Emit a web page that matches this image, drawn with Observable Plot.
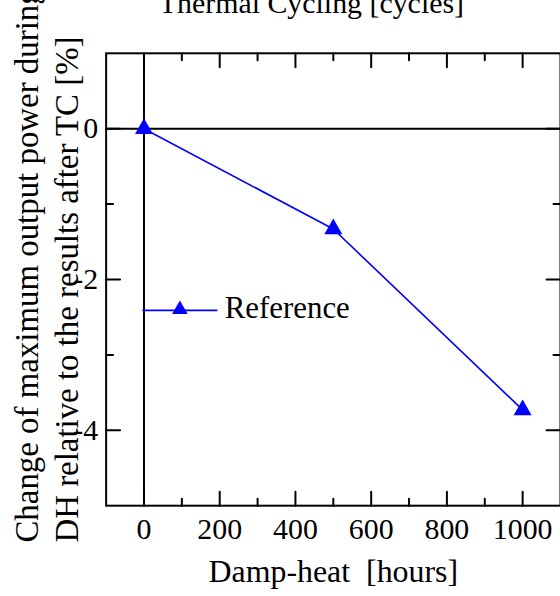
<!DOCTYPE html>
<html><head><meta charset="utf-8">
<script src="https://cdn.jsdelivr.net/npm/d3@7"></script>
<script src="https://cdn.jsdelivr.net/npm/@observablehq/plot@0.6"></script>
<style>html,body{margin:0;padding:0;overflow:hidden;background:#fff} svg{white-space:pre}</style>
</head><body><div id="chart"></div>
<script>
const hours = [0, 500, 1000];
const change = [0, -1.33, -3.73];
const seriesName = "Reference";
const xMajorTicks = [0, 200, 400, 600, 800, 1000];
const xMinorTicks = [100, 300, 500, 700, 900];
const yMajorTicks = [0, -2, -4];
const yMinorTicks = [-1, -3];
const xDomain = [-100, 1100];
const yDomain = [-5, 1];
const xTitle = "Damp-heat  [hours]";
const topTitle = "Thermal Cycling [cycles]";
const yTitle = ["Change of maximum output power during", "DH relative to the results after TC [%]"];

const data = hours.map((h, i) => ({hours: h, change: change[i]}));
const font = '"Liberation Serif", "Times New Roman", serif';
const seg = {draw(ctx, l) { ctx.moveTo(0, 0); ctx.lineTo(0, -l); }};
const blue = "#0000ff";

function ticks(vals, side, len) {
  const o = {anchor: "start", shape: seg, length: len, stroke: "black", strokeWidth: 2};
  if (side === "bottom") return Plot.vector(vals, {...o, x: d => d, y: yDomain[0], rotate: 0});
  if (side === "top") return Plot.vector(vals, {...o, x: d => d, y: yDomain[1], rotate: 180});
  if (side === "left") return Plot.vector(vals, {...o, y: d => d, x: xDomain[0], rotate: 90});
  return Plot.vector(vals, {...o, y: d => d, x: xDomain[1], rotate: -90});
}

const chart = Plot.plot({
  width: 562, height: 596,
  marginLeft: 106, marginRight: 0, marginTop: 53, marginBottom: 89,
  x: {domain: xDomain},
  y: {domain: yDomain},
  style: {fontFamily: font, fontSize: "30px", color: "black", background: "white", overflow: "visible"},
  marks: [
    Plot.ruleY([0], {stroke: "black", strokeWidth: 2}),
    Plot.ruleX([0], {stroke: "black", strokeWidth: 2}),
    ticks(xMajorTicks, "bottom", 14), ticks(xMinorTicks, "bottom", 7),
    ticks(xMajorTicks, "top", 14), ticks(xMinorTicks, "top", 7),
    ticks(yMajorTicks, "left", 14), ticks(yMinorTicks, "left", 7),
    ticks(yMajorTicks, "right", 14), ticks(yMinorTicks, "right", 7),
    Plot.frame({stroke: "black", strokeWidth: 2}),
    Plot.axisX(xMajorTicks, {anchor: "bottom", tickSize: 0, tickPadding: 12, label: null, fontSize: 30, tickFormat: d => String(d)}),
    Plot.axisY(yMajorTicks, {anchor: "left", tickSize: 0, tickPadding: 8, label: null, fontSize: 30, tickFormat: d => String(d)}),
    Plot.line(data, {x: "hours", y: "change", stroke: blue, strokeWidth: 1.6}),
    Plot.dot(data, {x: "hours", y: "change", symbol: "triangle", r: 6.7, fill: blue, stroke: "none"}),
    // legend
    Plot.vector([seriesName], {x: null, y: null, frameAnchor: "top-left", dx: 37, dy: 258, length: 74, rotate: 90, anchor: "start", shape: seg, stroke: blue, strokeWidth: 1.6}),
    Plot.dot([seriesName], {x: null, y: null, frameAnchor: "top-left", dx: 74, dy: 257, symbol: "triangle", r: 5.8, fill: blue, stroke: "none"}),
    Plot.text([seriesName], {x: null, y: null, text: d => d, frameAnchor: "top-left", dx: 119, dy: 266, textAnchor: "start", lineAnchor: "bottom", fontSize: 31, fill: "black"}),
    // titles
    Plot.text([xTitle], {x: null, y: null, text: d => d, frameAnchor: "bottom", dy: 77, lineAnchor: "bottom", fontSize: 32, fill: "black"}),
    Plot.text([topTitle], {x: null, y: null, text: d => d, frameAnchor: "top", dx: -22, dy: -40, lineAnchor: "bottom", fontSize: 30, fill: "black"}),
    Plot.text([yTitle.join("\n")], {x: null, y: null, text: d => d, frameAnchor: "bottom-left", rotate: -90, textAnchor: "start", lineAnchor: "bottom", lineHeight: 1.21, fontSize: 33, dx: -28, dy: 37, fill: "black"})
  ]
});
document.getElementById("chart").appendChild(chart);
</script>
</body></html>
